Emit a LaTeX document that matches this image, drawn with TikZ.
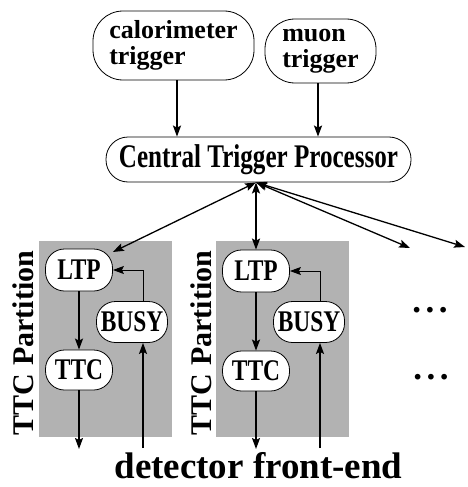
\documentclass[tikz,border=0pt]{standalone}
\usepackage{fontspec}
\setmainfont{Liberation Serif}
\newfontfamily\condfont{Liberation Serif}[FakeStretch=0.76]
\newfontfamily\nodefont{Liberation Serif}[FakeStretch=0.78]
\usetikzlibrary{arrows.meta}
\tikzset{
  box/.style={draw, line width=0.8pt, fill=white, inner sep=0pt, rounded corners=#1},
  box/.default=20pt,
  arr/.style={line width=1.7pt, -{Stealth[length=11pt,width=8pt,inset=2pt]}},
  thinarr/.style={line width=1pt, -{Stealth[length=11pt,width=8pt,inset=2pt]}},
  darr/.style={line width=1.3pt, {Stealth[length=11pt,width=8pt,inset=2pt]}-{Stealth[length=11pt,width=8pt,inset=2pt]}},
  darrv/.style={line width=1.7pt, {Stealth[length=11pt,width=8pt,inset=2pt]}-{Stealth[length=11pt,width=8pt,inset=2pt]}},
  panel/.style={fill=black!30, draw=none},
  small/.style={box=19pt, font=\nodefont\bfseries\fontsize{30}{30}\selectfont, minimum width=67pt, minimum height=42pt},
  lbl/.style={rotate=90, font=\bfseries\fontsize{30}{30}\selectfont, inner sep=0pt},
  trig/.style={box=30pt, align=left, font=\bfseries\fontsize{26}{26}\selectfont},
  dotsn/.style={font=\bfseries\fontsize{35}{35}\selectfont, inner sep=0pt}
}
\begin{document}
\begin{tikzpicture}[x=1pt, y=-1pt]
\useasboundingbox (0,0) rectangle (467,487);
% top triggers
\node[trig, minimum width=161pt, minimum height=69pt] (cal) at (173.5,45.5) {calorimeter\\trigger};
\node[trig, minimum width=111pt, minimum height=64pt] (muon) at (320.5,51) {muon\\trigger};
\node[box=22pt, minimum width=305pt, minimum height=45pt, font=\condfont\bfseries\fontsize{33}{33}\selectfont] (ctp) at (258.5,159.5) {Central Trigger Processor};
\draw[arr] ([xshift=3.5pt]cal.south) -- ([xshift=3.5pt]cal.south |- ctp.north);
\draw[arr] ([xshift=-2.5pt]muon.south) -- ([xshift=-2.5pt]muon.south |- ctp.north);
\coordinate (hub) at ([xshift=-2.5pt]ctp.south);
% panels
\fill[panel] (39,241) rectangle (172,437);
\fill[panel] (216,241) rectangle (349,437);
% panel 1
\node[small] (ltp1) at (79,270) {LTP};
\node[small, minimum width=71pt, minimum height=41pt] (busy1) at (132,322) {BUSY};
\node[small, minimum height=40pt] (ttc1) at (79,370) {TTC};
\node[lbl] (lab1) at (23,343) {TTC Partition};
\coordinate (out1) at (79,449);
\coordinate (in1) at (143,448);
\draw[arr] (ltp1) -- (ttc1);
\draw[arr] (ttc1) -- (out1);
\draw[arr] (in1) -- (in1 |- busy1.south);
\draw[thinarr] (in1 |- busy1.north) |- (ltp1.east);
% panel 2
\node[small] (ltp2) at (256,271) {LTP};
\node[small, minimum width=71pt, minimum height=41pt] (busy2) at (309,322) {BUSY};
\node[small, minimum height=40pt] (ttc2) at (256,371) {TTC};
\node[lbl] (lab2) at (201,343) {TTC Partition};
\coordinate (out2) at (256,449);
\coordinate (in2) at (320,448);
\draw[arr] (ltp2) -- (ttc2);
\draw[arr] (ttc2) -- (out2);
\draw[arr] (in2) -- (in2 |- busy2.south);
\draw[thinarr] (in2 |- busy2.north) |- (ltp2.east);
% CTP connections
\coordinate (r1) at (410,248);
\coordinate (r2) at (465,247);
\draw[darr] (hub) -- (ltp1.28);
\draw[darrv] (hub) -- (hub |- ltp2.north);
\draw[darr] (hub) -- (r1);
\draw[darr] (hub) -- (r2);
% dots
\node[dotsn] (d1) at (430,310) {.\hspace{4.5pt}.\hspace{4.5pt}.};
\node[dotsn] (d2) at (431,377) {.\hspace{4.5pt}.\hspace{4.5pt}.};
% bottom label
\node[anchor=base, inner sep=0pt, font=\bfseries\fontsize{37}{37}\selectfont] (fe) at (258.5,478) {detector front-end};
\end{tikzpicture}
\end{document}
